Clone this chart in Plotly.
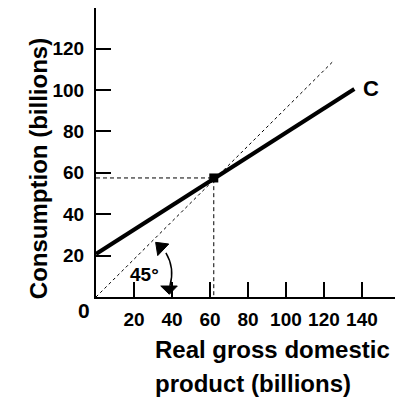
import plotly.graph_objects as go

# ---- data ----
gdp_ticks = [20, 40, 60, 80, 100, 120, 140]
gdp_tick_labels = ["20", "40", "60", "80", "100", "120", "140"]
cons_ticks = [20, 40, 60, 80, 100, 120]
cons_tick_labels = ["20", "40", "60", "80", "100", "120"]

c_x = [0, 136]          # consumption function C
c_y = [20.8, 100.5]
ref_x = [0, 125]        # 45-degree reference line
ref_y = [0, 114]
eq_x = [62]             # equilibrium point
eq_y = [57.5]

FONT = "Liberation Sans, Arial, Helvetica, sans-serif"
# page body has an 8px margin, so the figure is slightly smaller than the window
W, H = 412, 391
L, R, T, B = 88, 25, 0, 102

fig = go.Figure()

# 45 degree line
fig.add_trace(go.Scatter(x=ref_x, y=ref_y, mode="lines",
                         line=dict(color="black", width=1, dash="3px,3px"),
                         hoverinfo="skip", showlegend=False))
# guides to the equilibrium point
fig.add_trace(go.Scatter(x=[0, eq_x[0], eq_x[0]], y=[eq_y[0], eq_y[0], 0], mode="lines",
                         line=dict(color="black", width=1, dash="4px,3px"),
                         hoverinfo="skip", showlegend=False))
# consumption line
fig.add_trace(go.Scatter(x=c_x, y=c_y, mode="lines",
                         line=dict(color="black", width=4),
                         hoverinfo="skip", showlegend=False))
fig.add_trace(go.Scatter(x=eq_x, y=eq_y, mode="markers",
                         marker=dict(color="black", size=9, symbol="square"),
                         hoverinfo="skip", showlegend=False))

# curved 45 degree arrow (decoration)
fig.add_shape(type="path", xref="x", yref="y",
              path="M 36.8,21.3 Q 41.6,14.0 38.9,5.3",
              line=dict(color="black", width=1.5))
fig.add_shape(type="path", xref="x", yref="y",
              path="M 31.4,26.4 L 38.3,25.6 L 32.5,20.0 Z",
              fillcolor="black", line=dict(color="black", width=1))
fig.add_shape(type="path", xref="x", yref="y",
              path="M 34.1,5.3 L 42.8,5.3 L 38.6,1.3 Z",
              fillcolor="black", line=dict(color="black", width=1))

fig.add_annotation(x=25.5, y=11, xref="x", yref="y", text="<b>45°</b>",
                   showarrow=False, font=dict(family=FONT, size=19, color="black"))

# C label
fig.add_annotation(x=c_x[-1], y=c_y[-1], xref="x", yref="y", text="<b>C</b>",
                   showarrow=False, xanchor="left", xshift=7,
                   font=dict(family=FONT, size=22, color="black"))

# origin label
fig.add_annotation(x=0, y=0, xref="x", yref="y", text="<b>0</b>",
                   showarrow=False, xshift=-12, yshift=-13,
                   font=dict(family=FONT, size=21, color="black"))

# axis titles
fig.add_annotation(x=-0.19, y=0.443, xref="paper", yref="paper",
                   text="<b>Consumption (billions)</b>", textangle=-90,
                   showarrow=False, xanchor="center", yanchor="middle",
                   font=dict(family=FONT, size=24, color="black"))
fig.add_annotation(x=0.19, y=-0.183, xref="paper", yref="paper",
                   text="<b>Real gross domestic</b>", showarrow=False,
                   xanchor="left", yanchor="middle",
                   font=dict(family=FONT, size=24, color="black"))
fig.add_annotation(x=0.19, y=-0.298, xref="paper", yref="paper",
                   text="<b>product (billions)</b>", showarrow=False,
                   xanchor="left", yanchor="middle",
                   font=dict(family=FONT, size=24, color="black"))

fig.update_xaxes(range=[0, 157.4], tickvals=gdp_ticks, ticktext=gdp_tick_labels,
                 ticks="inside", ticklen=15, tickwidth=1.5, tickcolor="black",
                 showline=True, linecolor="black", linewidth=2,
                 showgrid=False, zeroline=False, ticklabelstandoff=4,
                 tickfont=dict(family=FONT, size=19, color="black", weight="bold"))
fig.update_yaxes(range=[0, 139.6], tickvals=cons_ticks, ticktext=cons_tick_labels,
                 ticks="inside", ticklen=15, tickwidth=1.5, tickcolor="black",
                 showline=True, linecolor="black", linewidth=2,
                 showgrid=False, zeroline=False, ticklabelstandoff=6,
                 tickfont=dict(family=FONT, size=19, color="black", weight="bold"))

fig.update_layout(width=W, height=H, margin=dict(l=L, r=R, t=T, b=B),
                  plot_bgcolor="white", paper_bgcolor="white", showlegend=False)

fig.write_html("out.html")
